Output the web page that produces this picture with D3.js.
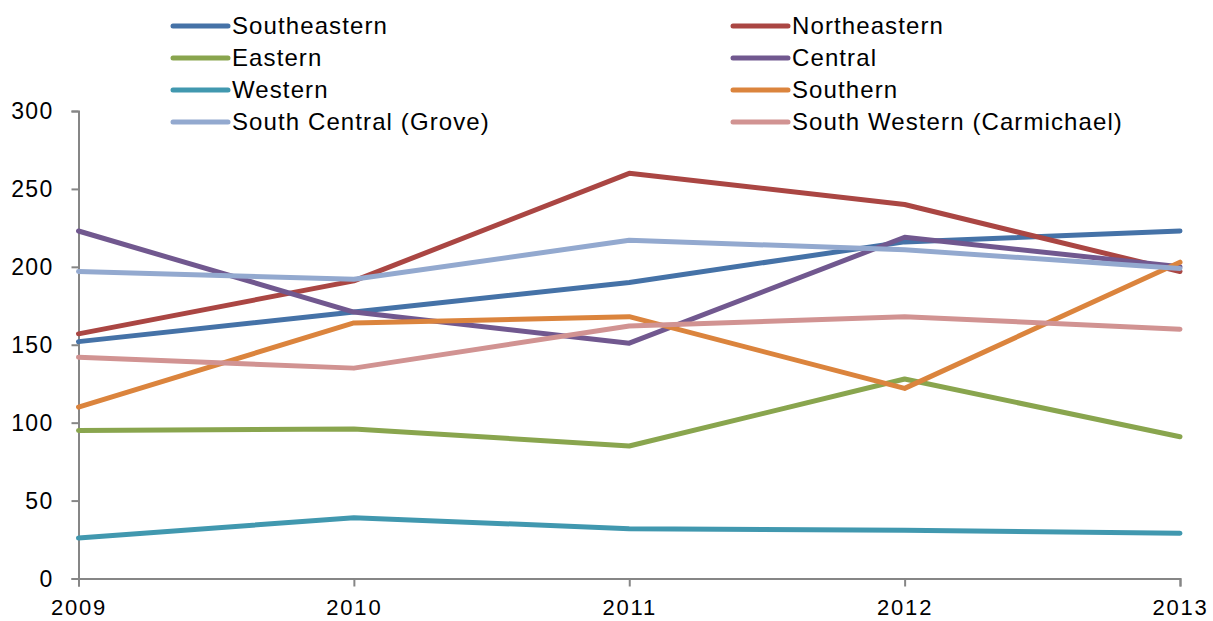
<!DOCTYPE html>
<html><head><meta charset="utf-8">
<script src="https://cdn.jsdelivr.net/npm/d3@7"></script>
<style>body{margin:0;background:#fff}svg{display:block}text{font-family:"Liberation Sans",Arial,sans-serif;fill:#000}</style>
</head><body><svg id="c" width="1213" height="621"></svg>
<script>
const years = [2009, 2010, 2011, 2012, 2013];
const seriesNames = ["Southeastern","Northeastern","Eastern","Central","Western","Southern","South Central (Grove)","South Western (Carmichael)"];
const southeastern = [152, 171, 190, 216, 223];
const northeastern = [157, 191, 260, 240, 197];
const eastern = [95, 96, 85, 128, 91];
const central = [223, 171, 151, 219, 200];
const western = [26, 39, 32, 31, 29];
const southern = [110, 164, 168, 122, 203];
const southCentral = [197, 192, 217, 211, 199];
const southWestern = [142, 135, 162, 168, 160];
const yTicks = [0, 50, 100, 150, 200, 250, 300];
const colors = ["#4572A7","#AA4643","#89A54E","#71588F","#4198AF","#DB843D","#93A9CF","#D19392"];
const values = [southeastern, northeastern, eastern, central, western, southern, southCentral, southWestern];

const svg = d3.select("#c");
const x = d3.scaleLinear().domain([2009, 2013]).range([78.5, 1180]);
const y = d3.scaleLinear().domain([0, 300]).range([578.5, 111]);

// axes
const yAxis = svg.append("g").attr("transform","translate(78.5,0)")
  .call(d3.axisLeft(y).tickValues(yTicks).tickSize(7).tickPadding(18).tickFormat(d3.format("d")));
const xAxis = svg.append("g").attr("transform","translate(0,578.5)")
  .call(d3.axisBottom(x).tickValues(years).tickSize(8).tickPadding(13).tickFormat(d3.format("d")));
[yAxis, xAxis].forEach(g => {
  g.select(".domain").attr("stroke","#868686").attr("stroke-width",2);
  g.selectAll(".tick line").attr("stroke","#868686").attr("stroke-width",2);
  g.selectAll("text").attr("font-size",23).attr("fill","#000")
    .attr("letter-spacing","1.3px").attr("font-family","Liberation Sans, Arial, sans-serif");
});
yAxis.selectAll("text").attr("dy","0.33em");
xAxis.selectAll("text").attr("font-size",22).attr("letter-spacing","1.8px");

// lines
const line = d3.line().x((d,i)=>x(years[i])).y(d=>y(d));
values.forEach((v,i)=>{
  svg.append("path").attr("d", line(v)).attr("fill","none")
    .attr("stroke", colors[i]).attr("stroke-width",5)
    .attr("stroke-linejoin","round").attr("stroke-linecap","round");
});

// legend
const lg = svg.append("g");
seriesNames.forEach((n,i)=>{
  const col = i % 2, row = Math.floor(i/2);
  const lx = col === 0 ? 173 : 733, ly = 26 + row*32;
  lg.append("line").attr("x1",lx).attr("x2",lx+55).attr("y1",ly).attr("y2",ly)
    .attr("stroke",colors[i]).attr("stroke-width",5).attr("stroke-linecap","round");
  lg.append("text").attr("x",lx+59).attr("y",ly).attr("dy","0.35em")
    .attr("font-size",24).attr("letter-spacing","1.1px").text(n);
});
</script></body></html>
